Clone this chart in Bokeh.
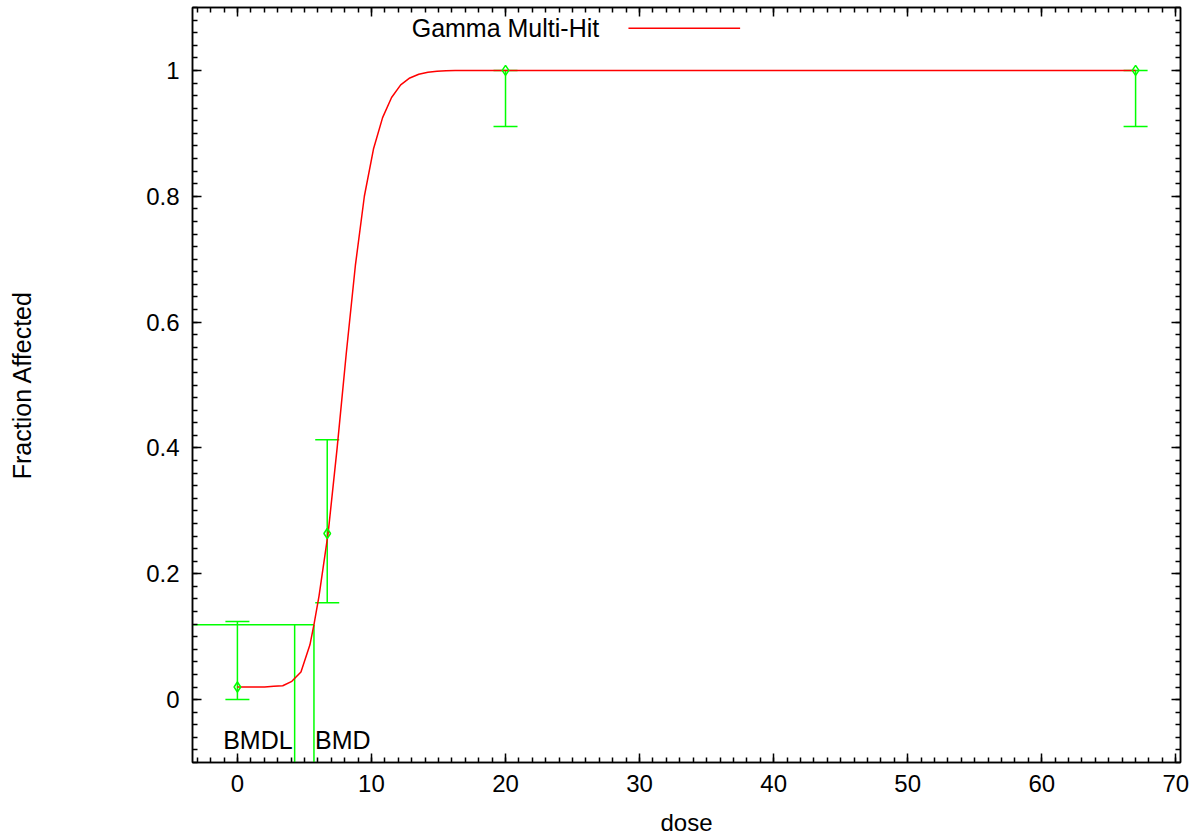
import numpy as np
from bokeh.plotting import figure
from bokeh.models import (ColumnDataSource, Whisker, TeeHead, Label, LinearAxis, CustomJSTickFormatter,
                          FixedTicker, SingleIntervalTicker, PrintfTickFormatter, Range1d)
from bokeh.embed import file_html
from bokeh.resources import INLINE

# observed data
dose = [0, 6.7, 20, 67]
frac = [0.02, 0.264, 1.0, 1.0]
lower = [0.0, 0.154, 0.911, 0.911]
upper = [0.124, 0.413, 1.0, 1.0]

# fitted Gamma Multi-Hit curve
curve_dose = [0, 0.68, 1.35, 2.03, 2.71, 3.38, 4.06, 4.74, 5.41, 5.71, 6.09, 6.77,
              7.44, 8.12, 8.80, 9.47, 10.15, 10.83, 11.50, 12.18, 12.86, 13.53,
              14.21, 14.89, 15.56, 16.24, 20.0, 67.0]
curve_frac = [0.020, 0.020, 0.020, 0.020, 0.021, 0.022, 0.029, 0.044, 0.087, 0.119, 0.165, 0.265,
              0.400, 0.550, 0.690, 0.800, 0.875, 0.925, 0.957, 0.977, 0.988, 0.994,
              0.997, 0.9985, 0.9993, 0.9997, 1.0, 1.0]

bmd = 5.71
bmdl = 4.27
bmr_level = 0.119

x_min, x_max = -3.35, 70.35
y_min, y_max = -0.1, 1.1
y_major = [0, 0.2, 0.4, 0.6, 0.8, 1.0]
y_minor = [round(-0.1 + 0.02 * i, 2) for i in range(61)]

FONT = "Liberation Sans"
GREEN = "#00ff00"
RED = "#ff0000"

p = figure(width=1200, height=839, output_backend="svg", toolbar_location=None,
           x_range=Range1d(x_min, x_max), y_range=Range1d(y_min, y_max),
           min_border_left=192, min_border_right=20, min_border_top=7, min_border_bottom=77)
p.grid.visible = False
p.outline_line_color = "black"
p.outline_line_width = 1.5
p.background_fill_color = "white"

xt = SingleIntervalTicker(interval=10, num_minor_ticks=10)
yt = FixedTicker(ticks=y_major, minor_ticks=y_minor)

xa = p.xaxis[0]
ya = p.yaxis[0]
xa.ticker = xt
ya.ticker = yt
ya.formatter = PrintfTickFormatter(format="%g")
for ax in (xa, ya):
    ax.major_tick_in = 9
    ax.major_tick_out = 0
    ax.minor_tick_in = 5
    ax.minor_tick_out = 0
    ax.axis_line_width = 1.5
    ax.major_tick_line_width = 1.5
    ax.minor_tick_line_width = 1.5
    ax.major_label_text_font = FONT
    ax.major_label_text_font_size = "24px"
    ax.major_label_text_color = "black"
    ax.axis_label_text_font = FONT
    ax.axis_label_text_font_size = "24px"
    ax.axis_label_text_font_style = "normal"
    ax.axis_label_text_color = "black"
xa.axis_label = "dose"
xa.major_label_standoff = 12
xa.axis_label_standoff = 14
ya.axis_label = "Fraction Affected"
ya.axis_label_text_font_size = "25px"
ya.major_label_standoff = 13
ya.axis_label_standoff = 107

# mirrored ticks on top and right border (no labels)
for loc, tk in (("above", xt), ("right", yt)):
    ax = LinearAxis(ticker=tk, formatter=CustomJSTickFormatter(code="return ''"),
                    major_label_standoff=0,
                    major_tick_in=9, major_tick_out=0, minor_tick_in=5, minor_tick_out=0,
                    axis_line_width=1.5, major_tick_line_width=1.5, minor_tick_line_width=1.5)
    p.add_layout(ax, loc)

# BMD / BMDL lines
p.segment(x0=[x_min], y0=[bmr_level], x1=[bmd], y1=[bmr_level], line_color=GREEN, line_width=1.5)
p.segment(x0=[bmdl, bmd], y0=[y_min, y_min], x1=[bmdl, bmd], y1=[bmr_level, bmr_level],
          line_color=GREEN, line_width=1.5)
p.add_layout(Label(x=bmdl, y=-0.064, text="BMDL", text_align="right", text_baseline="middle",
                   x_offset=-2, text_font=FONT, text_font_size="25px", text_color="black"))
p.add_layout(Label(x=bmd, y=-0.064, text="BMD", text_align="left", text_baseline="middle",
                   x_offset=1, text_font=FONT, text_font_size="25px", text_color="black"))

# fitted curve
p.line(curve_dose, curve_frac, line_color=RED, line_width=1.5)

# observed data with error bars
src = ColumnDataSource(dict(dose=dose, frac=frac, lower=lower, upper=upper))
w = Whisker(source=src, base="dose", lower="lower", upper="upper", line_color=GREEN, line_width=1.5,
            upper_head=TeeHead(size=24, line_color=GREEN, line_width=1.5),
            lower_head=TeeHead(size=24, line_color=GREEN, line_width=1.5))
p.add_layout(w)
p.scatter("dose", "frac", source=src, marker="diamond", size=10, fill_color=None,
          line_color=GREEN, line_width=1.5)

# legend (gnuplot style: text then line sample)
p.add_layout(Label(x=13.0, y=1.067, text="Gamma Multi-Hit", text_align="left", text_baseline="middle",
                   text_font=FONT, text_font_size="25px", text_color="black"))
p.segment(x0=[29.17], y0=[1.067], x1=[37.5], y1=[1.067], line_color=RED, line_width=1.5)

open("out.html", "w").write(file_html(p, INLINE))
